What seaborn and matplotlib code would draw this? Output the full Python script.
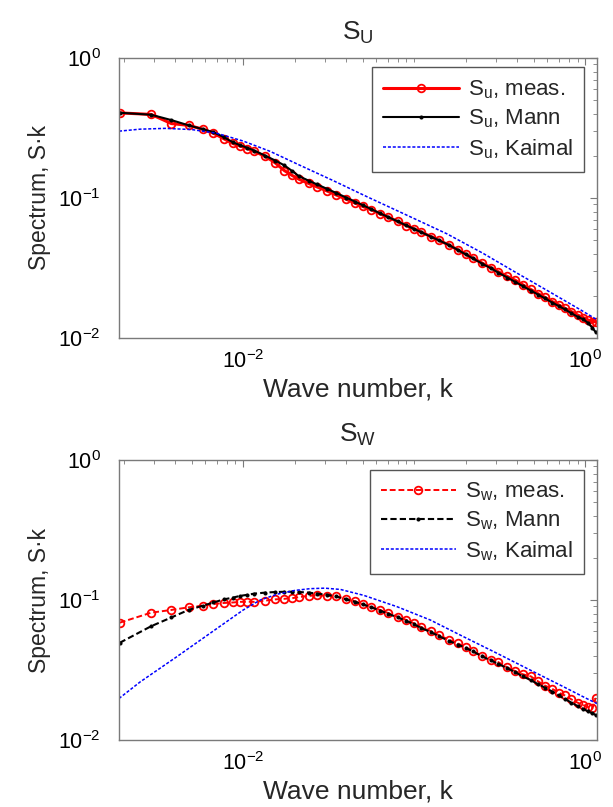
import numpy as np
import pandas as pd
import matplotlib
matplotlib.use("Agg")
import matplotlib.pyplot as plt
import seaborn as sns
from matplotlib.ticker import LogLocator, LogFormatterMathtext, NullFormatter, FixedLocator

# ---------------- data ----------------
k_meas = [0.0019, 0.0029, 0.0038, 0.0048, 0.0058, 0.0067, 0.0077, 0.0087, 0.0096, 0.0106,
          0.0116, 0.0135, 0.0154, 0.0174, 0.0193, 0.0212, 0.0241, 0.027, 0.031, 0.035,
          0.04, 0.045, 0.05, 0.056, 0.063, 0.07, 0.08, 0.09, 0.1, 0.11,
          0.125, 0.14, 0.16, 0.18, 0.2, 0.22, 0.25, 0.28, 0.31, 0.35,
          0.39, 0.43, 0.48, 0.53, 0.58, 0.64, 0.7, 0.76, 0.83, 0.9,
          0.97, 1.04, 1.1, 1.15]

su_meas = [0.405, 0.395, 0.34, 0.33, 0.31, 0.29, 0.265, 0.245, 0.235, 0.225,
           0.215, 0.198, 0.178, 0.157, 0.145, 0.136, 0.127, 0.12, 0.112, 0.105,
           0.098, 0.092, 0.087, 0.0825, 0.077, 0.073, 0.068, 0.0635, 0.06, 0.057,
           0.053, 0.0497, 0.046, 0.0425, 0.0397, 0.0372, 0.0342, 0.0318, 0.0297, 0.0275,
           0.0258, 0.024, 0.0222, 0.0207, 0.0195, 0.0182, 0.0172, 0.0163, 0.0154, 0.0146,
           0.014, 0.0134, 0.013, 0.0131]

su_mann = [0.406, 0.393, 0.36, 0.33, 0.31, 0.295, 0.272, 0.25, 0.238, 0.228,
           0.218, 0.2, 0.185, 0.171, 0.156, 0.143, 0.133, 0.125, 0.116, 0.1085,
           0.1007, 0.0943, 0.0888, 0.0834, 0.0777, 0.0733, 0.068, 0.0636, 0.06, 0.0569,
           0.0529, 0.0497, 0.046, 0.0425, 0.0395, 0.037, 0.0339, 0.0315, 0.0293, 0.027,
           0.0251, 0.0235, 0.0218, 0.0204, 0.0192, 0.0179, 0.0169, 0.016, 0.015, 0.0142,
           0.0136, 0.0128, 0.0118, 0.011]

k_kaimal_u = [0.00188, 0.0025, 0.0035, 0.005, 0.007, 0.01, 0.0144, 0.0215, 0.0336, 0.053,
              0.1, 0.155, 0.25, 0.381, 0.6, 0.936, 1.17]
su_kaimal = [0.30, 0.31, 0.314, 0.308, 0.29, 0.255, 0.215, 0.171, 0.133, 0.102,
             0.0712, 0.0555, 0.0405, 0.030, 0.0218, 0.0159, 0.0135]

sw_meas = [0.0689, 0.0812, 0.0849, 0.0887, 0.091, 0.0936, 0.0952, 0.096, 0.097, 0.0972,
           0.097, 0.099, 0.101, 0.102, 0.103, 0.105, 0.107, 0.108, 0.107, 0.106,
           0.102, 0.098, 0.093, 0.089, 0.085, 0.081, 0.076, 0.072, 0.068, 0.064,
           0.06, 0.056, 0.052, 0.049, 0.046, 0.043, 0.04, 0.0375, 0.036, 0.033,
           0.031, 0.0295, 0.0285, 0.0262, 0.0245, 0.0232, 0.0218, 0.0208, 0.0195, 0.0185,
           0.0178, 0.0172, 0.0168, 0.02]

sw_mann = [0.0495, 0.065, 0.075, 0.085, 0.091, 0.096, 0.101, 0.104, 0.107, 0.109,
           0.111, 0.113, 0.114, 0.1145, 0.1146, 0.114, 0.113, 0.111, 0.109, 0.106,
           0.101, 0.097, 0.093, 0.089, 0.084, 0.08, 0.075, 0.071, 0.067, 0.063,
           0.059, 0.055, 0.051, 0.048, 0.0455, 0.043, 0.0395, 0.037, 0.035, 0.0325,
           0.0305, 0.0285, 0.0268, 0.025, 0.0237, 0.0222, 0.0208, 0.0196, 0.0185, 0.0175,
           0.0167, 0.016, 0.0155, 0.0151]

k_kaimal_w = [0.00188, 0.0025, 0.0041, 0.0064, 0.01, 0.0126, 0.0158, 0.02, 0.0246, 0.03,
              0.037, 0.0506, 0.0793, 0.124, 0.194, 0.305, 0.476, 0.746, 1.0, 1.17]
sw_kaimal = [0.0198, 0.026, 0.0394, 0.0578, 0.0848, 0.1, 0.11, 0.117, 0.1205, 0.1215,
             0.119, 0.108, 0.0896, 0.072, 0.0547, 0.0416, 0.0316, 0.024, 0.02, 0.0182]

titles = [r"S$_\mathregular{U}$", r"S$_\mathregular{W}$"]
legend_u = [r"S$_\mathregular{u}$, meas.", r"S$_\mathregular{u}$, Mann", r"S$_\mathregular{u}$, Kaimal"]
legend_w = [r"S$_\mathregular{w}$, meas.", r"S$_\mathregular{w}$, Mann", r"S$_\mathregular{w}$, Kaimal"]
xlabel = "Wave number, k"
ylabel = "Spectrum, S\u00b7k"

# ---------------- style ----------------
sns.set_style("white")
plt.rcParams["font.family"] = ["Liberation Sans", "DejaVu Sans"]
plt.rcParams["mathtext.default"] = "regular"

fig = plt.figure(figsize=(6.13, 8.07), dpi=100)
ax_top = fig.add_axes([0.1941, 0.5812, 0.7798, 0.3470])
ax_bot = fig.add_axes([0.1941, 0.0830, 0.7798, 0.3470])

spine_col = "#7a7a7a"


def draw(ax, meas, mann, kk, kai, labels, title, dashed):
    ls_main = (0, (3, 1.5)) if dashed else "-"
    sns.lineplot(x=k_meas, y=meas, ax=ax, color="red", linestyle=ls_main,
                 linewidth=2.2 if not dashed else 1.4, marker="o", markersize=5.5,
                 markerfacecolor="none", markeredgecolor="red", markeredgewidth=1.3,
                 estimator=None, sort=False, label=labels[0])
    sns.lineplot(x=k_meas, y=mann, ax=ax, color="black", linestyle=ls_main,
                 linewidth=1.5, marker="o", markersize=2.2,
                 markerfacecolor="black", markeredgecolor="black",
                 estimator=None, sort=False, label=labels[1])
    sns.lineplot(x=kk, y=kai, ax=ax, color="blue", linestyle=(0, (2, 1.2)),
                 linewidth=1.1, estimator=None, sort=False, label=labels[2])
    ax.set_xscale("log")
    ax.set_yscale("log")
    ax.set_xlim(0.00188, 1.17)
    ax.set_ylim(0.01, 1.0)
    ax.xaxis.set_major_locator(FixedLocator([1e-2, 1e0]))
    ax.xaxis.set_major_formatter(LogFormatterMathtext())
    ax.xaxis.set_minor_locator(LogLocator(base=10, subs=np.arange(1, 10), numticks=20))
    ax.xaxis.set_minor_formatter(NullFormatter())
    ax.yaxis.set_major_locator(FixedLocator([1e-2, 1e-1, 1e0]))
    ax.yaxis.set_major_formatter(LogFormatterMathtext())
    ax.yaxis.set_minor_locator(LogLocator(base=10, subs=np.arange(2, 10), numticks=20))
    ax.yaxis.set_minor_formatter(NullFormatter())
    ax.tick_params(which="both", direction="in", top=True, right=True,
                   color=spine_col, labelcolor="black", labelsize=15.5)
    ax.tick_params(which="major", length=5, width=0.8)
    ax.tick_params(which="minor", length=3, width=0.6)
    ax.tick_params(axis="y", pad=13)
    ax.tick_params(axis="x", pad=9)
    for s in ax.spines.values():
        s.set_color(spine_col)
        s.set_linewidth(1.0)
    ax.set_xlabel(xlabel, fontsize=19, labelpad=3)
    ax.set_ylabel(ylabel, fontsize=16.5, labelpad=5)
    ax.set_title(title, fontsize=19, pad=13)
    leg = ax.legend(loc="upper right", bbox_to_anchor=(0.973, 0.966), borderaxespad=0.0,
                    fontsize=16, handlelength=3.4, labelspacing=0.3, borderpad=0.5,
                    handletextpad=0.4, fancybox=False, framealpha=1.0,
                    edgecolor="#555555")
    leg.get_frame().set_linewidth(1.0)


draw(ax_top, su_meas, su_mann, k_kaimal_u, su_kaimal, legend_u, titles[0], dashed=False)
draw(ax_bot, sw_meas, sw_mann, k_kaimal_w, sw_kaimal, legend_w, titles[1], dashed=True)

fig.savefig("out.png", dpi=100)
